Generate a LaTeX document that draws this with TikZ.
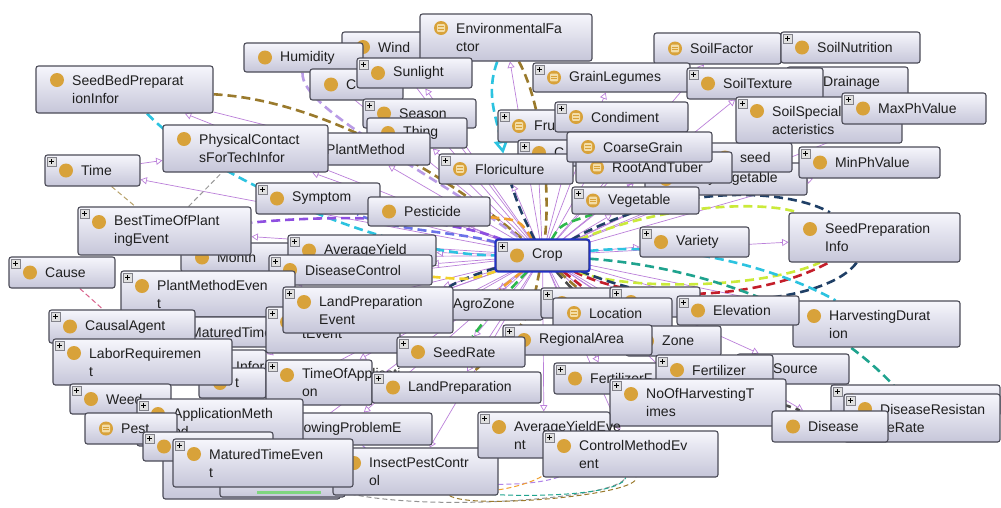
\documentclass[tikz,border=0pt]{standalone}
\usepackage{fontspec}
\setmainfont{Liberation Sans}
\usetikzlibrary{arrows}
\pgfdeclarelayer{background}
\pgfsetlayers{background,main}

\definecolor{boxtop}{HTML}{F6F6FC}
\definecolor{boxbot}{HTML}{C6C6D9}
\definecolor{boxline}{HTML}{4C4C58}
\definecolor{iconcol}{HTML}{D8A23A}
\definecolor{iconin}{HTML}{F3DDA6}
\definecolor{cropblue}{HTML}{2233C4}
\definecolor{isacol}{HTML}{BB80DA}
\definecolor{brownrel}{HTML}{9A7A2C}
\definecolor{cyanrel}{HTML}{2CC3E0}
\definecolor{navyrel}{HTML}{1F3F66}
\definecolor{limerel}{HTML}{CBEA3A}
\definecolor{redrel}{HTML}{C41E2A}
\definecolor{tealrel}{HTML}{1FA38E}
\definecolor{lavrel}{HTML}{B99BE6}
\definecolor{violetrel}{HTML}{8E4FE0}
\definecolor{bluerel}{HTML}{6B72E8}
\definecolor{grayrel}{HTML}{4A4A4A}
\definecolor{orangerel}{HTML}{F0A030}
\definecolor{pinkrel}{HTML}{D9608A}
\definecolor{greenrel}{HTML}{2DB84C}
\definecolor{yellowrel}{HTML}{F2D02A}
\definecolor{greenbar}{HTML}{7FD67F}

\tikzset{
  ontobox/.style={draw=boxline, line width=1.1pt, rounded corners=2.5pt, top color=boxtop, bottom color=boxbot, inner sep=0pt},
  ontotext/.style={anchor=west, align=left, inner sep=0pt, font=\fontsize{14}{18}\selectfont, text=black!88},
  isa/.style={draw=isacol, line width=0.7pt, -open triangle 60},
  rel/.style={line width=2.6pt, dash pattern=on 9pt off 5pt},
  thinrel/.style={line width=1pt, dash pattern=on 5pt off 3pt},
  circicon/.pic={\fill[iconcol] (0,0) circle (7pt);},
  equiicon/.pic={\fill[iconcol] (0,0) circle (7pt);
    \fill[iconin, rounded corners=1pt] (-4,-3.8) rectangle (4,3.8);
    \draw[iconcol, line width=0.9pt] (-2.8,-1.4) -- (2.8,-1.4) (-2.8,1.4) -- (2.8,1.4);},
  plusmark/.pic={\draw[boxline!70, fill=black!12, line width=0.5pt] (2,2) rectangle (11,11);
    \draw[black, line width=0.9pt] (4,6.5) -- (9,6.5) (6.5,4) -- (6.5,9);},
  nomark/.pic={},
}

% name, x1, y1, x2, y2, icon y, text, icon, plus
\newcommand{\onto}[9]{%
  \node[ontobox, minimum width={#4-#2}, minimum height={#5-#3}] (#1) at ({(#2+#4)/2},{(#3+#5)/2}) {};
  \pic at (#2+21,#6) {#8};
  \pic at (#2,#3) {#9};
  \node[ontotext] at (#2+36,{(#3+#5)/2}) {#7};
}

\begin{document}
\begin{tikzpicture}[x=1pt,y=-1pt]
\useasboundingbox (0,0) rectangle (1001,507);
% top
\onto{wind}{342}{32}{430}{62}{47}{Wind}{circicon}{nomark}
\onto{humidity}{244}{43}{363}{72}{57.5}{Humidity}{circicon}{nomark}
\onto{cfactor}{310}{69}{403}{100}{84.5}{C}{circicon}{nomark}
\onto{envfactor}{420}{14}{592}{61}{28}{EnvironmentalFa\\ctor}{equiicon}{nomark}
\onto{sunlight}{357}{58}{472}{88}{73}{Sunlight}{circicon}{plusmark}
\onto{season}{363}{99}{476}{128}{113.5}{Season}{circicon}{plusmark}
\onto{thing}{367}{118}{467}{148}{133}{Thing}{circicon}{nomark}
\onto{plantmethod}{290}{133}{430}{165}{149}{PlantMethod}{circicon}{nomark}
\onto{seedbed}{36}{66}{213}{113}{80}{SeedBedPreparat\\ionInfor}{circicon}{nomark}
\onto{physical}{163}{125}{328}{172}{139}{PhysicalContact\\sForTechInfor}{circicon}{nomark}
\onto{time}{45}{155}{140}{186}{170.5}{Time}{circicon}{plusmark}
%
\onto{fruit}{498}{110}{575}{142}{126}{Fru}{equiicon}{plusmark}
\onto{cereal}{518}{140}{620}{166}{153}{C}{circicon}{plusmark}
\onto{floriculture}{439}{154}{573}{184}{169}{Floriculture}{equiicon}{plusmark}
\onto{condiment}{555}{102}{688}{132}{117}{Condiment}{equiicon}{plusmark}
\onto{leafy}{645}{163}{807}{195}{179}{LeafyVegetable}{circicon}{nomark}
\onto{oilseed}{704}{143}{792}{172}{157.5}{seed}{circicon}{nomark}
\onto{rootandtuber}{576}{152}{732}{183}{167.5}{RootAndTuber}{equiicon}{nomark}
\onto{coarsegrain}{567}{132}{712}{162}{147}{CoarseGrain}{equiicon}{nomark}
\onto{vegetable}{572}{187}{699}{214}{200.5}{Vegetable}{equiicon}{plusmark}
\onto{soilfactor}{654}{33}{781}{64}{48.5}{SoilFactor}{equiicon}{nomark}
\onto{grainlegumes}{533}{63}{690}{92}{77.5}{GrainLegumes}{equiicon}{plusmark}
\onto{soilnutrition}{781}{32}{920}{63}{47.5}{SoilNutrition}{circicon}{plusmark}
\onto{drainage}{787}{67}{908}{98}{82.5}{Drainage}{circicon}{nomark}
\onto{soiltexture}{687}{68}{823}{99}{83.5}{SoilTexture}{circicon}{plusmark}
\onto{soilspecial}{736}{97}{902}{143}{111}{SoilSpecialChar\\acteristics}{circicon}{plusmark}
\onto{maxph}{842}{93}{986}{124}{108.5}{MaxPhValue}{circicon}{plusmark}
\onto{minph}{799}{147}{940}{178}{162.5}{MinPhValue}{circicon}{plusmark}
\onto{seedprep}{789}{213}{960}{262}{229}{SeedPreparation\\Info}{circicon}{nomark}
\onto{variety}{640}{227}{749}{257}{242}{Variety}{circicon}{plusmark}
% middle left
\onto{symptom}{256}{183}{380}{214}{198.5}{Symptom}{circicon}{plusmark}
\onto{pesticide}{368}{197}{490}{226}{211.5}{Pesticide}{circicon}{nomark}
\onto{month}{181}{243}{290}{272}{257.5}{Month}{circicon}{nomark}
\onto{besttime}{78}{207}{251}{255}{222}{BestTimeOfPlant\\ingEvent}{circicon}{plusmark}
\onto{avgyield}{288}{235}{436}{266}{250.5}{AverageYield}{circicon}{plusmark}
\onto{diseasecontrol}{269}{255}{432}{285}{270}{DiseaseControl}{circicon}{plusmark}
\onto{cause}{9}{257}{115}{288}{272.5}{Cause}{circicon}{plusmark}
\onto{plantmethodevent}{121}{271}{295}{317}{286}{PlantMethodEven\\t}{circicon}{plusmark}
\onto{maturedtime}{154}{317}{300}{347}{332}{MaturedTime}{circicon}{nomark}
\onto{causalagent}{49}{310}{195}{343}{326.5}{CausalAgent}{circicon}{plusmark}
\onto{agrozone}{417}{290}{543}{320}{305}{AgroZone}{circicon}{nomark}
\onto{tevent}{266}{307}{400}{353}{322}{\mbox{}\\tEvent}{circicon}{plusmark}
\onto{landprepevent}{283}{287}{453}{333}{302}{LandPreparation\\Event}{circicon}{plusmark}
% middle right
\onto{locback}{541}{288}{630}{318}{303}{}{circicon}{plusmark}
\onto{locbacktwo}{610}{287}{700}{317}{302}{}{circicon}{plusmark}
\onto{location}{553}{298}{672}{328}{313}{Location}{equiicon}{nomark}
\onto{harvestdur}{793}{301}{960}{347}{316}{HarvestingDurat\\ion}{circicon}{nomark}
\onto{elevation}{677}{296}{799}{325}{310.5}{Elevation}{circicon}{plusmark}
\onto{zone}{626}{326}{721}{356}{341}{Zone}{circicon}{nomark}
\onto{regional}{503}{325}{652}{355}{340}{RegionalArea}{circicon}{plusmark}
\onto{seedrate}{397}{337}{525}{367}{352}{SeedRate}{circicon}{plusmark}
% lower left
\onto{informback}{200}{350}{266}{382}{366}{Inform}{circicon}{nomark}
\onto{informfront}{199}{368}{266}{398}{383}{t}{circicon}{nomark}
\onto{laborreq}{53}{339}{232}{385}{353}{LaborRequiremen\\t}{circicon}{plusmark}
\onto{timeofapp}{266}{360}{372}{405}{375}{TimeOfApplicati\\on}{circicon}{plusmark}
\onto{landprep}{372}{372}{541}{403}{387.5}{LandPreparation}{circicon}{plusmark}
\onto{weed}{70}{384}{171}{414}{399}{Weed}{circicon}{plusmark}
\onto{sowingproblem}{258}{413}{432}{445}{428}{SowingProblemE}{circicon}{nomark}
\onto{appmethod}{137}{399}{303}{446}{414}{ApplicationMeth\\od}{circicon}{plusmark}
\onto{pest}{85}{413}{177}{444}{428.5}{Pest}{equiicon}{nomark}
\onto{bottomback}{163}{445}{340}{499}{472}{}{circicon}{nomark}
\node[ontobox, minimum width=125, minimum height=27] (greenbox) at (282.5,483.5) {};
\draw[greenbar, line width=3pt] (greenbox.south west) ++(38,-5) -- ++(64,0);
\onto{midback}{143}{432}{273}{461}{446.5}{}{circicon}{plusmark}
\onto{insectpest}{333}{448}{498}{495}{463}{InsectPestContr\\ol}{circicon}{nomark}
\onto{maturedevent}{173}{439}{353}{487}{454}{MaturedTimeEven\\t}{circicon}{plusmark}
% lower right
\onto{fertf}{554}{363}{660}{394}{378.5}{FertilizerF}{circicon}{plusmark}
\onto{source}{737}{354}{849}{384}{369}{Source}{circicon}{nomark}
\onto{fertilizer}{656}{355}{773}{385}{370}{Fertilizer}{circicon}{plusmark}
\onto{noharvest}{610}{379}{786}{426}{394}{NoOfHarvestingT\\imes}{circicon}{plusmark}
\onto{avgyieldevent}{478}{412}{610}{458}{427}{AverageYieldEve\\nt}{circicon}{plusmark}
\onto{controlmethod}{543}{431}{718}{477}{446}{ControlMethodEv\\ent}{circicon}{plusmark}
\onto{diseaseresback}{831}{385}{1000}{416}{400.5}{}{circicon}{plusmark}
\onto{diseaseres}{844}{394}{1000}{442}{409}{DiseaseResistan\\ceRate}{circicon}{plusmark}
\onto{disease}{772}{411}{888}{442}{426.5}{Disease}{circicon}{nomark}
% focus
\onto{crop}{496}{240}{589}{271}{255.5}{Crop}{circicon}{plusmark}
\draw[cropblue, line width=2pt, rounded corners=2.5pt] (crop.north west) rectangle (crop.south east);

\begin{pgfonlayer}{background}
\fill[white] (0,0) rectangle (1001,507);
% is-a fan round Crop
\foreach \n in {humidity,wind,envfactor,sunlight,season,thing,plantmethod,seedbed,physical,time,fruit,cereal,floriculture,condiment,leafy,oilseed,rootandtuber,coarsegrain,vegetable,grainlegumes,soilfactor,soiltexture,soilspecial,minph,maxph,variety,symptom,pesticide,month,besttime,avgyield,diseasecontrol,plantmethodevent,maturedtime,agrozone,tevent,landprepevent,location,elevation,zone,regional,seedrate,informback,timeofapp,landprep,sowingproblem,appmethod,insectpest,maturedevent,fertf,fertilizer,source,noharvest,avgyieldevent,controlmethod,disease,harvestdur,seedprep}
  \draw[isa] (crop) -- (\n);
\draw[isa] (time) -- (physical);
\draw[isa] (seedbed) -- (plantmethod);
\draw[isa] (source) -- (diseaseres);
% properties
\draw[rel, brownrel] (seedbed) .. controls (320,100) and (440,170) .. (crop);
\draw[rel, cyanrel] (seedbed) .. controls (200,170) and (380,255) .. (crop);
\draw[rel, cyanrel, -open triangle 60] (envfactor) to[out=250, in=100] (floriculture);
\draw[rel, brownrel] (envfactor) .. controls (545,110) and (550,200) .. (crop);
\draw[rel, lavrel] (humidity) .. controls (300,110) and (430,170) .. (crop);
\draw[rel, navyrel] (crop) .. controls (680,180) and (790,190) .. (seedprep);
\draw[rel, limerel] (crop) .. controls (660,205) and (760,200) .. (seedprep);
\draw[rel, redrel] (crop) .. controls (640,305) and (760,300) .. (seedprep);
\draw[rel, limerel] (crop) .. controls (620,290) and (760,290) .. (seedprep);
\draw[rel, navyrel] (seedprep) .. controls (830,300) and (700,320) .. (crop);
\draw[rel, tealrel] (crop) .. controls (680,265) and (820,300) .. (diseaseres);
\draw[rel, cyanrel] (crop) .. controls (700,240) and (800,280) .. (harvestdur);
\draw[rel, grayrel] (crop) .. controls (650,380) and (780,400) .. (disease);
\draw[rel, violetrel] (crop) .. controls (440,215) and (330,215) .. (besttime);
\draw[rel, bluerel] (crop) .. controls (460,232) and (400,232) .. (symptom);
\draw[rel, navyrel] (crop) .. controls (470,275) and (440,290) .. (landprepevent);
\draw[rel, orangerel] (crop) -- (agrozone);
\draw[rel, brownrel] (crop) .. controls (620,330) and (700,360) .. (fertilizer);
\draw[rel, greenrel] (crop) .. controls (560,225) .. (vegetable);
\draw[rel, yellowrel] (crop) .. controls (470,280) .. (diseasecontrol);
\draw[rel, orangerel] (crop) .. controls (520,220) .. (pesticide);
\draw[rel, redrel] (crop) .. controls (600,300) .. (regional);
\draw[rel, navyrel] (crop) .. controls (520,210) .. (floriculture);
\draw[rel, greenrel] (crop) .. controls (500,300) .. (seedrate);
\draw[rel, brownrel] (crop) .. controls (530,320) .. (landprep);
\draw[thinrel, brownrel!70] (time) -- (besttime);
\draw[thinrel, black!40] (besttime) -- (physical);
\draw[thinrel, pinkrel] (cause) -- (causalagent);
\draw[thinrel, grayrel!60] (maturedevent) .. controls (400,515) and (620,500) .. (controlmethod);
\draw[thinrel, brownrel] (insectpest) .. controls (470,510) and (640,495) .. (controlmethod);
\draw[thinrel, violetrel!70] (sowingproblem) .. controls (420,500) and (600,490) .. (avgyieldevent);
\draw[thinrel, tealrel] (appmethod) .. controls (380,505) and (620,505) .. (controlmethod);
\draw[thinrel, orangerel] (insectpest) .. controls (500,490) and (560,480) .. (avgyieldevent);
\end{pgfonlayer}
\end{tikzpicture}
\end{document}
